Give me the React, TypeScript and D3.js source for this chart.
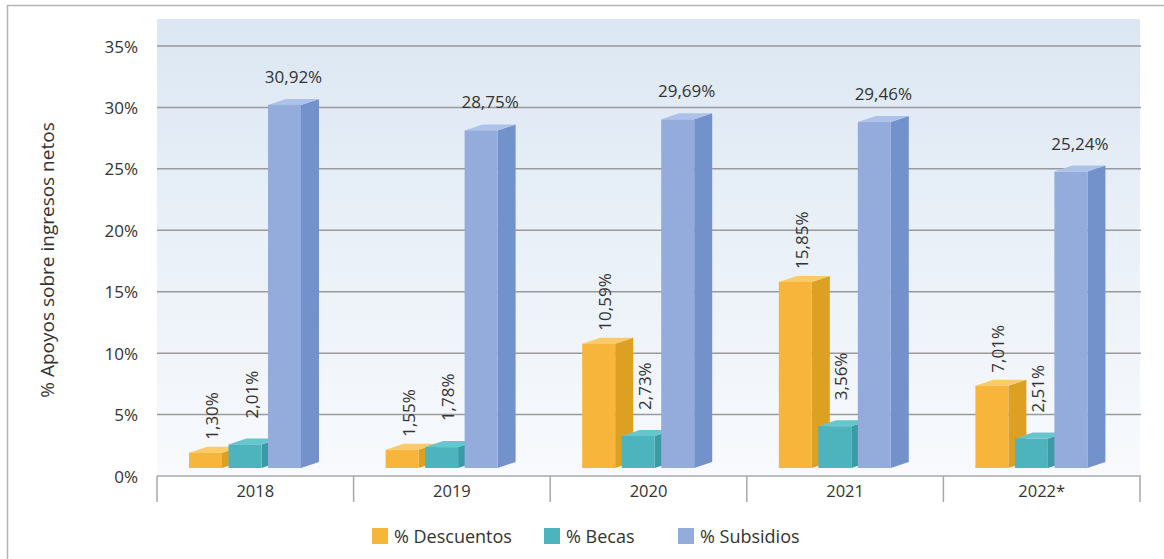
import React from 'react';
import * as d3 from 'd3';

// data
const years = ['2018', '2019', '2020', '2021', '2022*'];
const descuentos = [1.3, 1.55, 10.59, 15.85, 7.01];
const becas = [2.01, 1.78, 2.73, 3.56, 2.51];
const subsidios = [30.92, 28.75, 29.69, 29.46, 25.24];
const yTicks = [0, 5, 10, 15, 20, 25, 30, 35];
const seriesNames = ['% Descuentos', '% Becas', '% Subsidios'];

const W = 1164;
const H = 559;
const FONT = '"Open Sans", "Noto Sans", sans-serif';
const TEXT = '#333';

// face colours per series: front, side, top
const palette = [
  { front: '#F8B53B', side: '#DCA022', top: '#FBCB6A' },
  { front: '#4DB4BE', side: '#3A9BA5', top: '#66C6CD' },
  { front: '#94ACDC', side: '#7391CB', top: '#ADC2E8' },
];

const fmt = (v: number) => v.toFixed(2).replace('.', ',') + '%';

export default function App() {
  const series = [descuentos, becas, subsidios];

  const x = d3.scaleBand<string>().domain(years).range([157, 1140]);
  const inner = d3.scaleBand<number>().domain([0, 1, 2]).range([32, 144]).paddingInner(0.165);
  const yGrid = d3.scaleLinear().domain([0, 35]).range([476, 46]);
  const yBar = d3.scaleLinear().domain([0, 35]).range([468, 57]);

  const dx = 18;
  const dy = 6;
  const bw = inner.bandwidth();
  const labelGap = [13, 26];

  let bars: any[] = [];
  let labels: any[] = [];
  years.forEach((yr, i) => {
    series.forEach((vals, s) => {
      const v = vals[i];
      const x0 = (x(yr) as number) + (inner(s) as number);
      const x1 = x0 + bw;
      const yt = yBar(v);
      const yb = yBar(0);
      const c = palette[s];
      bars.push(
        <g key={yr + s}>
          <path d={`M${x1},${yt}L${x1 + dx},${yt - dy}L${x1 + dx},${yb - dy}L${x1},${yb}Z`} fill={c.side} />
          <path d={`M${x0},${yt}L${x0 + dx},${yt - dy}L${x1 + dx},${yt - dy}L${x1},${yt}Z`} fill={c.top} />
          <rect x={x0} y={yt} width={bw} height={yb - yt} fill={c.front} />
        </g>
      );
      if (s === 2) {
        labels.push(
          <text key={'l' + yr + s} x={x0 + (bw + dx) / 2} y={yt - dy - 16} textAnchor="middle"
            fontSize={17} fill={TEXT}>{fmt(v)}</text>
        );
      } else {
        const lx = x0 + bw / 2 + 6;
        const ly = yt - labelGap[s];
        labels.push(
          <text key={'l' + yr + s} transform={`translate(${lx},${ly}) rotate(-90)`}
            dominantBaseline="central" fontSize={17} fill={TEXT}>{fmt(v)}</text>
        );
      }
    });
  });

  const legendX = [372, 544, 678];

  return (
    <div style={{ position: 'absolute', left: 0, top: 0 }}>
      <svg width={W} height={H} style={{ display: 'block', fontFamily: FONT }}>
        <defs>
          <linearGradient id="bg" x1="0" y1="0" x2="0" y2="1">
            <stop offset="0" stopColor="#DCE7F3" />
            <stop offset="1" stopColor="#F8FAFD" />
          </linearGradient>
        </defs>
        <rect x={0} y={0} width={W} height={H} fill="#fff" />
        <path d={`M7.5,${H}V5.5H${W}`} fill="none" stroke="#b5b5b5" strokeWidth={1.5} />

        <rect x={157} y={19} width={983} height={yGrid(0) - 19} fill="url(#bg)" />

        {yTicks.map((t) => (
          <g key={t}>
            <line x1={157} x2={1141} y1={yGrid(t)} y2={yGrid(t)} stroke={t === 0 ? '#a8a8a8' : '#9a9a9a'} strokeWidth={1.5} />
            <text x={138} y={yGrid(t)} textAnchor="end" dominantBaseline="central" fontSize={17} fill={TEXT}>{t}%</text>
          </g>
        ))}

        {d3.range(years.length + 1).map((i) => {
          const xx = 157 + i * x.step();
          return <line key={'d' + i} x1={xx} x2={xx} y1={476} y2={502} stroke="#a8a8a8" strokeWidth={1.5} />;
        })}
        {years.map((yr) => (
          <text key={yr} x={(x(yr) as number) + x.bandwidth() / 2} y={490} textAnchor="middle"
            dominantBaseline="central" fontSize={16.5} fill={TEXT}>{yr}</text>
        ))}

        {bars}
        {labels}

        <text transform={`translate(47,260) rotate(-90)`} textAnchor="middle" dominantBaseline="central"
          fontSize={19} fill={TEXT}>% Apoyos sobre ingresos netos</text>

        {seriesNames.map((n, s) => (
          <g key={n}>
            <rect x={legendX[s]} y={528} width={16} height={16} fill={palette[s].front} />
            <text x={legendX[s] + 22} y={536} dominantBaseline="central" fontSize={18} fill={TEXT}>{n}</text>
          </g>
        ))}
      </svg>
    </div>
  );
}
